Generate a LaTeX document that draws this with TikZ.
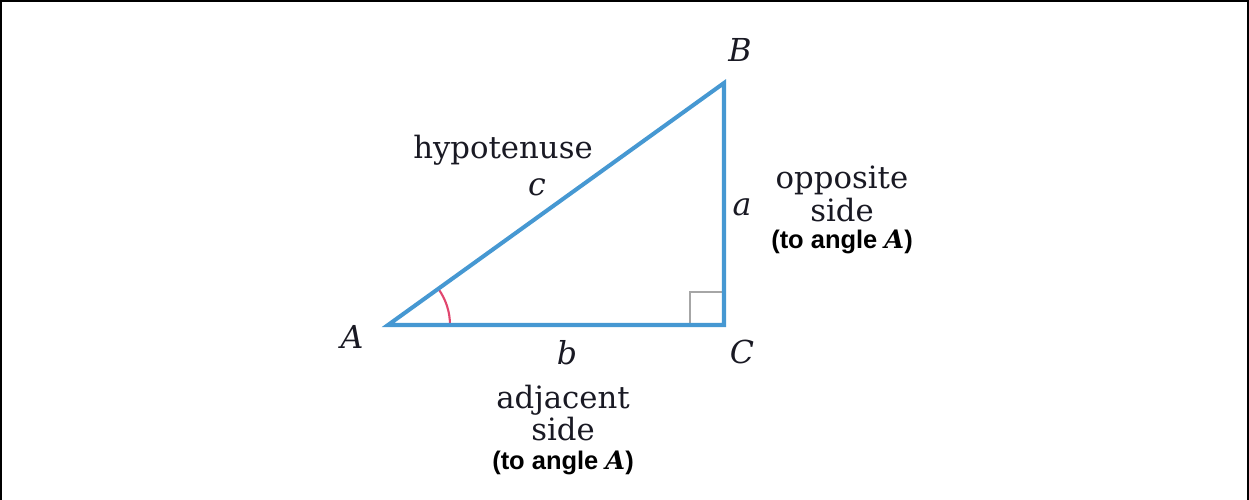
\documentclass[tikz,border=0pt]{standalone}
\usepackage{fontspec}
\usetikzlibrary{calc}
\newfontfamily\labelsans{Liberation Sans}
\newfontfamily\labelserif{DejaVu Serif}
\definecolor{sideblue}{RGB}{70,152,210}
\definecolor{arcred}{RGB}{225,70,110}
\definecolor{inkblack}{RGB}{25,25,35}
\begin{document}
\begin{tikzpicture}[x=0.02cm,y=-0.02cm,
  sideline/.style={draw=sideblue, line width=2.3pt, line join=miter},
  serif/.style={font=\labelserif\fontsize{17.5}{18.5}\selectfont, text=inkblack, inner sep=0pt, align=center},
  vlabel/.style={font=\labelserif\itshape\fontsize{18}{20}\selectfont, text=inkblack, inner sep=0pt},
  sanslabel/.style={font=\labelsans\bfseries\fontsize{14.5}{16}\selectfont, inner sep=0pt}]
\useasboundingbox (0,0) rectangle (1249,500);
\draw[line width=1.6pt] (0.8,500) -- (0.8,0.8) -- (1248.2,0.8) -- (1248.2,500);
\coordinate (A) at (388,325);
\coordinate (C) at (724,325);
\coordinate (B) at (724,83);
% right angle mark
\draw[gray!70, line width=1.1pt] (690,325) -- (690,292) -- (724,292);
% angle arc
\draw[arcred, line width=1.2pt] ($(A)+(62,0)$) arc[start angle=0, end angle=-35.8, radius=62];
\draw[sideline] (A) -- (C) -- (B) -- cycle;
\node[vlabel] (lA) at (352,337) {A};
\node[vlabel] (lB) at (740,50) {B};
\node[vlabel] (lC) at (742,352) {C};
\node[vlabel] (lb) at (567,353) {b};
\node[vlabel] (la) at (742,207) {a};
\node[vlabel] (lc) at (537,187) {c};
\node[serif] (hyp) at (503,150) {hypotenuse};
\node[serif] (opp) at (842,194) {opposite\\side};
\node[sanslabel] (opp2) at (842,242) {(to angle {\labelserif\bfseries\itshape A})};
\node[serif] (adj) at (563,413) {adjacent\\side};
\node[sanslabel] (adj2) at (563,463) {(to angle {\labelserif\bfseries\itshape A})};
\end{tikzpicture}
\end{document}
